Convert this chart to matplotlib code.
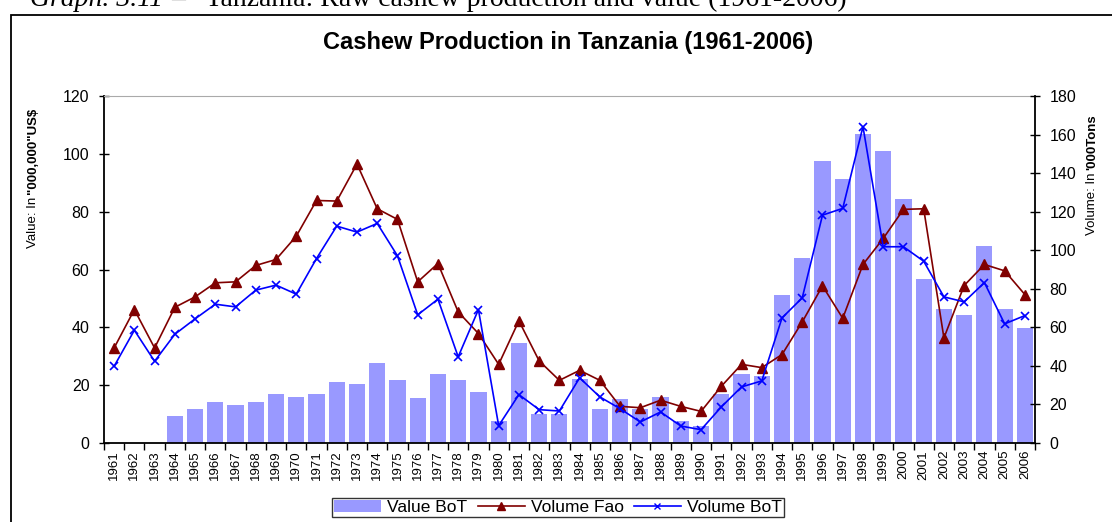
import matplotlib
matplotlib.use("Agg")
import matplotlib.pyplot as plt
from matplotlib.patches import Rectangle, Patch
from matplotlib.lines import Line2D
import numpy as np

plt.rcParams['font.family'] = ['Liberation Sans', 'DejaVu Sans']

years = [str(y) for y in range(1961, 2007)]

# Value BoT (000,000 US$) - left axis; nan = no bar
value_bot = [np.nan, np.nan, np.nan, 9.2, 11.7, 14.1, 13.0, 14.1, 16.8, 15.8,
             16.8, 21.0, 20.3, 27.6, 21.7, 15.5, 23.8, 21.7, 17.5, 7.5,
             34.5, 9.9, 9.9, 22.0, 11.7, 15.1, 11.9, 15.8, 7.5, 5.8,
             16.8, 23.8, 23.1, 51.1, 63.9, 97.5, 91.3, 107.0, 101.0, 84.3,
             56.7, 46.3, 44.2, 68.1, 46.3, 39.7]

# Volume Fao ('000 tons) - right axis
volume_fao = [49.3, 69.2, 49.3, 70.4, 75.8, 83.1, 83.6, 92.1, 95.2, 107.3,
              125.8, 125.5, 144.7, 121.5, 116.0, 83.6, 93.1, 68.0, 56.8, 40.8,
              63.4, 42.6, 32.5, 37.7, 32.5, 19.0, 18.3, 22.2, 19.0, 16.4,
              29.4, 40.8, 39.1, 45.9, 62.8, 81.5, 64.7, 92.6, 106.1, 121.2,
              121.5, 54.5, 81.7, 92.6, 89.3, 77.0]

# Volume BoT ('000 tons) - right axis
volume_bot = [39.8, 58.5, 42.4, 56.4, 64.4, 72.0, 70.6, 79.3, 81.9, 77.2,
              95.7, 112.5, 109.4, 113.9, 97.1, 66.5, 74.6, 44.7, 69.2, 9.0,
              25.1, 17.3, 16.6, 33.8, 23.9, 17.8, 10.9, 16.1, 8.8, 6.9,
              18.7, 29.1, 32.2, 64.9, 75.3, 118.2, 121.7, 164.1, 101.8, 101.8,
              94.3, 75.8, 73.2, 83.2, 61.8, 66.1]

W, H = 1112, 522
fig = plt.figure(figsize=(W / 100, H / 100), dpi=100)

# outer chart frame
fig.patches.append(Rectangle((11 / W, -0.05), 1.2, 1 - 15 / H + 0.05,
                             transform=fig.transFigure, fill=False,
                             edgecolor='black', linewidth=1.3, zorder=0))

ax = fig.add_axes([104 / W, 1 - 443 / H, (1035 - 104) / W, (443 - 96) / H])
x = np.arange(len(years))

ax.bar(x, value_bot, width=0.8, color='#9999FF', zorder=1)
ax.set_ylim(0, 120)
ax.set_xlim(-0.5, len(years) - 0.5)
ax.set_yticks(np.arange(0, 121, 20))
ax.set_xticks(x)
ax.set_xticklabels(years, rotation=90, fontsize=9.5)
ax.tick_params(axis='x', length=0, pad=5)
ax.set_xticks(np.arange(-0.5, len(years), 1), minor=True)
ax.tick_params(axis='x', which='minor', length=5, direction='out', width=1)
ax.tick_params(axis='y', direction='inout', length=7, labelsize=11.5,
               width=1, pad=7)
ax.spines['top'].set_color('#AAAAAA')
ax.spines['right'].set_visible(False)
ax.spines['left'].set_linewidth(1.3)
ax.spines['bottom'].set_linewidth(1.3)

ax2 = ax.twinx()
ax2.set_ylim(0, 180)
ax2.set_yticks(np.arange(0, 181, 20))
ax2.plot(x, volume_fao, color='#800000', marker='^', markersize=7.5,
         linewidth=1.2, zorder=3)
ax2.plot(x, volume_bot, color='#0000FF', marker='x', markersize=6,
         markeredgewidth=1.2, linewidth=1.2, zorder=3)
ax2.spines['top'].set_visible(False)
ax2.spines['left'].set_visible(False)
ax2.spines['bottom'].set_visible(False)
ax2.spines['right'].set_linewidth(1.3)
ax2.tick_params(axis='y', direction='inout', length=7, labelsize=11.5,
                width=1, pad=7)

fig.text(0.511, 1 - 43 / H, 'Cashew Production in Tanzania (1961-2006)',
         ha='center', va='center', fontsize=17, fontweight='bold')

fig.canvas.draw()
renderer = fig.canvas.get_renderer()

# caption (cut at top, as in the source page)
cap1 = fig.text(30 / W, 1 - 6 / H, "Graph. 3.11", fontsize=20, style='italic',
                family='Liberation Serif', va='baseline', ha='left')
w1 = cap1.get_window_extent(renderer).width
fig.text((30 + w1 + 8) / W, 1 - 6 / H,
         "\u2013   Tanzania: Raw cashew production and value (1961-2006)",
         fontsize=20, family='Liberation Serif', va='baseline', ha='left')


def mixed_vertical(xpx, ybottom_px, normal, bold, size):
    t1 = fig.text(xpx / W, 1 - ybottom_px / H, normal, rotation=90,
                  ha='center', va='bottom', fontsize=size)
    h = t1.get_window_extent(renderer).height
    fig.text(xpx / W, 1 - (ybottom_px - h - 3) / H, bold, rotation=90,
             ha='center', va='bottom', fontsize=size, fontweight='bold')


mixed_vertical(33, 248, 'Value: In', '"000,000"US$', 9.5)
mixed_vertical(1092, 235, 'Volume: In', "'000Tons", 9.5)

handles = [Patch(facecolor='#9999FF', edgecolor='none'),
           Line2D([], [], color='#800000', marker='^', markersize=6, linewidth=1.2),
           Line2D([], [], color='#0000FF', marker='x', markersize=5, linewidth=1.2)]
leg = fig.legend(handles, ['Value BoT', 'Volume Fao', 'Volume BoT'],
                 loc='center', bbox_to_anchor=(558 / W, 1 - 507.5 / H),
                 ncol=3, fontsize=12.5, frameon=True, fancybox=False,
                 edgecolor='black', borderpad=0.1, handlelength=2.7,
                 handletextpad=0.35, columnspacing=0.6, borderaxespad=0)
leg.get_frame().set_linewidth(1.0)

fig.savefig('out.png', dpi=100)
